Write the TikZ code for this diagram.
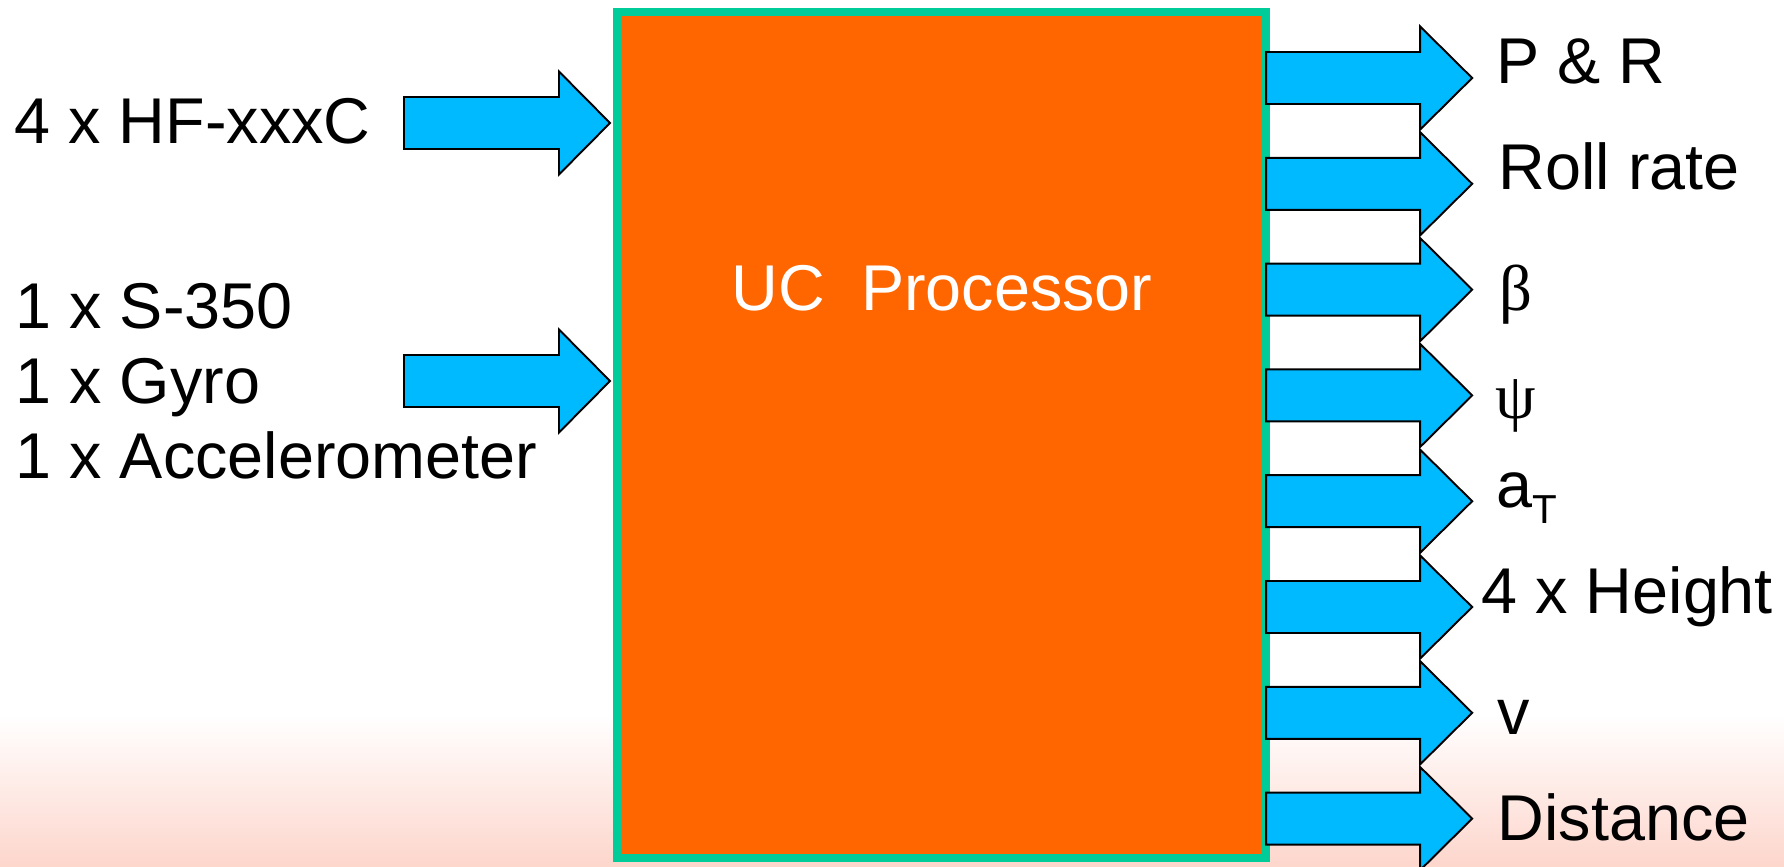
\documentclass[tikz,border=0pt]{standalone}
\usepackage{fontspec}
\setmainfont{Liberation Sans}
\newfontfamily\greekfont{Liberation Serif}
\usetikzlibrary{positioning}
\definecolor{procorange}{RGB}{255,102,0}
\definecolor{procgreen}{RGB}{0,204,153}
\definecolor{flowblue}{RGB}{0,186,255}
\definecolor{floorpink}{RGB}{253,214,204}

\begin{document}
\begin{tikzpicture}[x=0.01cm,y=-0.01cm,
  lbl/.style={inner sep=0pt,anchor=base west,font=\fontsize{18.4}{22}\selectfont},
  flow/.style={fill=flowblue,draw=black,line width=0.55pt,line join=miter}]
\useasboundingbox (0,0) rectangle (1784,866);
\fill[white] (0,0) rectangle (1784,866);
\fill[top color=white,bottom color=floorpink] (0,715) rectangle (1784,866);
\node[rectangle,fill=procorange,draw=procgreen,line width=0.08cm,inner sep=0pt,outer sep=0pt,
      minimum width=6.49cm,minimum height=8.46cm] (proc) at (941.5,435) {};
\node[lbl,anchor=base,text=white] (title) at (942,310) {UC\ \ Processor};
\foreach \yy in {123,381}
  \draw[flow] (404,\yy) ++(0,-26) -- ++(155,0) -- ++(0,-25.5) -- ++(51,51.5)
    -- ++(-51,51.5) -- ++(0,-25.5) -- ++(-155,0) -- cycle;
\foreach \i in {0,...,7}{
  \pgfmathsetmacro\yy{78+105.8*\i}
  \draw[flow] (proc.east |- 0,\yy) ++(0,-26) -- ++(154,0) -- ++(0,-25.5) -- ++(52,51.5)
    -- ++(-52,51.5) -- ++(0,-25.5) -- ++(-154,0) -- cycle;
}
\node[lbl] (hf) at (14,143) {4 x HF-xxxC};
\node[lbl] (s350) at (15,328) {1 x S-350};
\node[lbl] (gyro) at (15,403) {1 x Gyro};
\node[lbl] (accel) at (15,478) {1 x Accelerometer};
\node[lbl] (pr) at (1496,83) {P \& R};
\node[lbl] (roll) at (1498,189) {Roll rate};
\node[lbl] (beta) at (1499,310) {\greekfont β};
\node[lbl] (psi) at (1495,418) {\greekfont ψ};
\node[lbl] (acct) at (1496,507) {a\raisebox{-0.16cm}{\fontsize{11.5}{13}\selectfont T}};
\node[lbl] (height) at (1481,613) {4 x Height};
\node[lbl] (vel) at (1497,734) {v};
\node[lbl] (dist) at (1497,840) {Distance};
\end{tikzpicture}
\end{document}
